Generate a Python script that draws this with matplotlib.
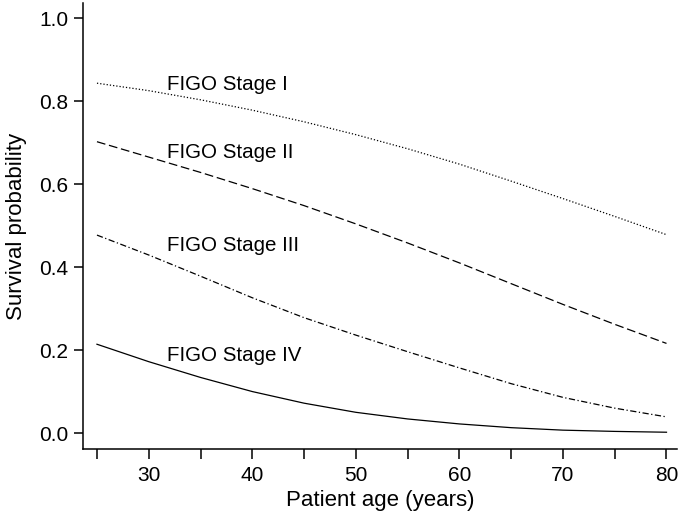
import matplotlib
matplotlib.use("Agg")
import matplotlib.pyplot as plt

plt.rcParams['font.family'] = ['Liberation Sans', 'DejaVu Sans']

# ages read every 5 years
age = [25, 30, 35, 40, 45, 50, 55, 60, 65, 70, 75, 80]

stage1 = [0.843, 0.825, 0.803, 0.778, 0.750, 0.719, 0.685, 0.648, 0.607, 0.565, 0.522, 0.478]
stage2 = [0.702, 0.665, 0.628, 0.589, 0.548, 0.504, 0.458, 0.410, 0.360, 0.310, 0.262, 0.216]
stage3 = [0.477, 0.429, 0.378, 0.326, 0.278, 0.236, 0.196, 0.157, 0.119, 0.086, 0.060, 0.039]
stage4 = [0.214, 0.172, 0.134, 0.100, 0.072, 0.050, 0.034, 0.022, 0.013, 0.007, 0.004, 0.002]

labels = ["FIGO Stage I", "FIGO Stage II", "FIGO Stage III", "FIGO Stage IV"]
label_y = [0.839, 0.677, 0.453, 0.188]

fig = plt.figure(figsize=(6.83, 5.15), dpi=100)
ax = fig.add_axes([0.1215, 0.128, 0.8695, 0.866])

lw = 0.9
ax.plot(age, stage1, color="black", lw=lw, linestyle=(0, (1, 1.6)))
ax.plot(age, stage2, color="black", lw=lw, linestyle=(0, (7, 3)))
ax.plot(age, stage3, color="black", lw=lw, linestyle=(0, (5, 2, 1, 2)))
ax.plot(age, stage4, color="black", lw=lw, linestyle="-")

for lab, yy in zip(labels, label_y):
    ax.text(31.8, yy, lab, fontsize=14.8, va="center", ha="left")

ax.set_xlim(23.65, 81.0)
ax.set_ylim(-0.0386, 1.036)

ax.set_xticks([30, 40, 50, 60, 70, 80])
ax.set_xticks([25, 35, 45, 55, 65, 75], minor=True)
ax.set_yticks([0.0, 0.2, 0.4, 0.6, 0.8, 1.0])
ax.set_yticklabels(["0.0", "0.2", "0.4", "0.6", "0.8", "1.0"])

for s in ["top", "right"]:
    ax.spines[s].set_visible(False)
for s in ["left", "bottom"]:
    ax.spines[s].set_linewidth(1.1)

ax.tick_params(axis="x", which="both", direction="out", length=7.5, width=1.1, labelsize=15, pad=5)
ax.tick_params(axis="y", which="both", direction="out", length=6.5, width=1.1, labelsize=15, pad=4)

ax.set_xlabel("Patient age (years)", fontsize=16, labelpad=3)
ax.set_ylabel("Survival probability", fontsize=16, labelpad=9)

fig.savefig("out.png", dpi=100)
